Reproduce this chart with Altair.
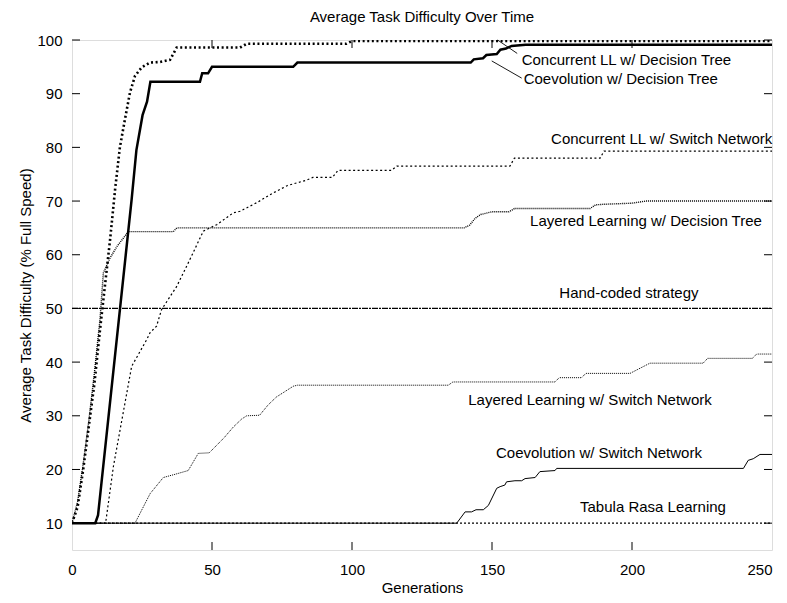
import altair as alt
import pandas as pd

FONT = "Liberation Sans"

# ---------------- data ----------------
cll_dt_gen = [0, 2, 4, 6, 8, 10, 11.5, 13.6, 15.4, 17.1, 18.9, 20.7, 22.5, 24.9, 27.9, 31.4, 35, 37.4, 60, 62.4, 98, 100, 250]
cll_dt_val = [10, 13, 20, 28, 36, 46, 53, 62.8, 72.2, 80, 85.2, 90.2, 93.3, 94.9, 95.8, 95.9, 96.3, 98.6, 98.6, 99.3, 99.3, 99.8, 99.8]

coev_dt_gen = [0, 8.3, 9.3, 21.3, 23, 25.2, 26.8, 28, 45.7, 46.5, 48.6, 50, 79, 80.5, 142.4, 143.5, 146.8, 148, 151.7, 153, 155, 157, 162, 250]
coev_dt_val = [10, 10, 11.5, 70.3, 79.5, 86, 88.5, 92.2, 92.2, 93.8, 93.8, 95, 95, 95.8, 95.8, 96.4, 96.6, 97.2, 97.4, 98.2, 98.4, 98.9, 99.1, 99.1]

cll_sn_gen = [0, 12, 14.8, 21.3, 26.7, 27.9, 30.2, 32, 37.4, 42.1, 46.9, 51.7, 57.6, 60, 66, 71.8, 77, 83.8, 86, 93, 95, 114, 116, 156.4, 158, 188.6, 190, 250]
cll_sn_val = [10, 10, 20.6, 39.2, 44.2, 45.5, 46.7, 49.8, 54.1, 59.1, 64.4, 65.6, 67.8, 68.1, 69.7, 71.5, 72.9, 73.9, 74.4, 74.4, 75.7, 75.7, 76.5, 76.5, 78, 78, 79.3, 79.3]

ll_dt_gen = [0, 2, 4, 6, 8, 10, 11.2, 13.6, 16, 20.1, 36.2, 37.4, 140, 142, 144, 146, 150, 156, 158, 185, 187, 190, 200, 205, 250]
ll_dt_val = [10, 14, 21, 29, 38, 48, 56.6, 59.4, 61.5, 64.3, 64.3, 65, 65, 65.5, 66.8, 67.5, 68, 68, 68.6, 68.6, 69.3, 69.4, 69.6, 70, 70]

hand_gen = [0, 250]
hand_val = [50, 50]

ll_sn_gen = [0, 22.5, 27.9, 32.6, 36.8, 41.5, 45.1, 49, 54.3, 57.6, 60.6, 62.4, 67, 70, 73, 76, 79, 80.5, 134.4, 136, 172.5, 174, 182, 183.5, 199.3, 206.4, 225.4, 227, 243, 244.5, 250]
ll_sn_val = [10, 10, 15.5, 18.5, 19.1, 19.8, 23, 23.1, 25.9, 27.9, 29.4, 30, 30.1, 32, 33.5, 34.5, 35.5, 35.7, 35.7, 36.3, 36.3, 37.1, 37.1, 37.9, 37.9, 39.8, 39.8, 40.7, 40.7, 41.5, 41.5]

coev_sn_gen = [0, 137.4, 140.4, 142.7, 144.3, 146.9, 148.7, 151.7, 152.9, 154.6, 155.2, 158.2, 160.6, 161.8, 165.4, 167.1, 172.5, 173.1, 239.8, 241.5, 243.3, 245.7, 250]
coev_sn_val = [10, 10, 12.1, 12.1, 12.5, 12.5, 13.3, 16.5, 16.8, 17.1, 17.7, 17.9, 17.9, 18.3, 18.5, 19.6, 19.8, 20.2, 20.2, 21.7, 22.0, 22.8, 22.8]

tabula_gen = [0, 250]
tabula_val = [10, 10]

label_text = ["Concurrent LL w/ Decision Tree", "Coevolution w/ Decision Tree",
              "Concurrent LL w/ Switch Network", "Layered Learning w/ Decision Tree",
              "Hand-coded strategy", "Layered Learning w/ Switch Network",
              "Coevolution w/ Switch Network", "Tabula Rasa Learning"]
label_gen = [198.0, 196.0, 210.6, 205.0, 198.9, 185.0, 188.2, 207.5]
label_val = [96.2, 92.7, 81.5, 66.2, 52.8, 32.9, 23.0, 13.1]

leader_gen = [152, 149.9]
leader_val = [100, 96.1]
leader_gen2 = [159, 160.6]
leader_val2 = [97.5, 92.9]

x_ticks = [0, 50, 100, 150, 200, 250]
y_ticks = [10, 20, 30, 40, 50, 60, 70, 80, 90, 100]

# ---------------- chart ----------------
W, H = 700, 510
xs = alt.Scale(domain=[0, 250], nice=False, zero=False)
ys = alt.Scale(domain=[5, 100], nice=False, zero=False)

X = alt.X("gen:Q", scale=xs, axis=alt.Axis(
    values=x_ticks, ticks=False, domain=False, grid=False, labelFlush=False,
    labelAlign=alt.expr("datum.value == 250 ? 'right' : 'center'"),
    labelFontSize=15, labelFont=FONT, labelPadding=12, labelColor="black",
    title="Generations", titleFontSize=15, titleFont=FONT, titleFontWeight="normal",
    titleColor="black", titleY=42, titleBaseline="alphabetic"))
Y = alt.Y("val:Q", scale=ys, axis=alt.Axis(
    values=y_ticks, ticks=False, domain=False, grid=False, labelFlush=False,
    labelFontSize=15, labelFont=FONT, labelPadding=10, labelColor="black",
    title="Average Task Difficulty (% Full Speed)", titleFontSize=15, titleFont=FONT,
    titleFontWeight="normal", titleColor="black", titleX=-39, titleY=H / 2))


def series(gens, vals, width, dash=None):
    df = pd.DataFrame({"gen": gens, "val": vals})
    kw = dict(color="black", strokeWidth=width, clip=True)
    if dash:
        kw["strokeDash"] = dash
    return alt.Chart(df).mark_line(**kw).encode(x=X, y=Y)


layers = [
    series(tabula_gen, tabula_val, 1.2, [2, 2]),
    series(coev_sn_gen, coev_sn_val, 1.0),
    series(ll_sn_gen, ll_sn_val, 1.0, [1, 1]),
    series(hand_gen, hand_val, 1.4, [6, 1, 2, 1]),
    series(ll_dt_gen, ll_dt_val, 1.4, [1, 1]),
    series(cll_sn_gen, cll_sn_val, 1.2, [2, 2.5]),
    series(coev_dt_gen, coev_dt_val, 2.5),
    series(cll_dt_gen, cll_dt_val, 2.6, [2, 2.6]),
]

lead_df = pd.DataFrame({"gen": leader_gen, "val": leader_val, "gen2": leader_gen2, "val2": leader_val2})
leaders = alt.Chart(lead_df).mark_rule(color="black", strokeWidth=0.9).encode(
    x=X, y=Y, x2="gen2:Q", y2="val2:Q")

lab_df = pd.DataFrame({"gen": label_gen, "val": label_val, "txt": label_text})
labels = alt.Chart(lab_df).mark_text(font=FONT, fontSize=15, color="black",
                                     align="center", baseline="middle").encode(
    x=X, y=Y, text="txt:N")

yt = pd.DataFrame({"val": y_ticks})
xt = pd.DataFrame({"gen": x_ticks[1:-1]})
tick_style = dict(color="black", strokeWidth=1)
lt = alt.Chart(yt).mark_rule(**tick_style).encode(y=Y, x=alt.value(0), x2=alt.value(8))
rt = alt.Chart(yt).mark_rule(**tick_style).encode(y=Y, x=alt.value(W), x2=alt.value(W - 8))
bt = alt.Chart(xt).mark_rule(**tick_style).encode(x=X, y=alt.value(H), y2=alt.value(H - 8))
tt = alt.Chart(xt).mark_rule(**tick_style).encode(x=X, y=alt.value(0), y2=alt.value(8))

chart = alt.layer(*layers, leaders, labels, lt, rt, bt, tt).properties(
    width=W, height=H,
    title=alt.TitleParams("Average Task Difficulty Over Time", font=FONT, fontSize=15,
                          fontWeight="normal", color="black", anchor="middle", offset=8),
    autosize=alt.AutoSizeParams(type="none"),
    padding={"left": 64, "top": 32, "right": 7, "bottom": 45},
).configure_view(stroke="black", strokeWidth=1.5).configure(background="white")

chart.save("out.html", embed_options={"renderer": "svg", "actions": False})
